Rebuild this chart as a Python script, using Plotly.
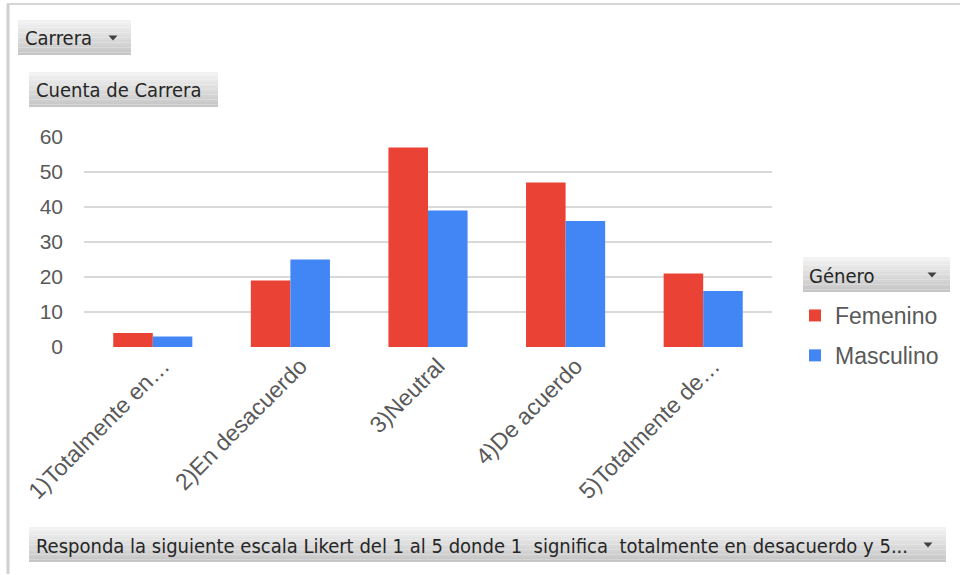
import plotly.graph_objects as go

categories = ["1)Totalmente en…", "2)En desacuerdo", "3)Neutral", "4)De acuerdo", "5)Totalmente de…"]
femenino = [4, 19, 57, 47, 21]
masculino = [3, 25, 39, 36, 16]
series_names = ["Femenino", "Masculino"]
y_ticks = [0, 10, 20, 30, 40, 50, 60]

W, H = 960, 575
L, R, T, B = 84, 188, 137, 228
PW, PH = W - L - R, H - T - B


def px2x(px):
    return (px - L) / PW


def py2y(py):
    return (H - B - py) / PH


RED = "#EA4335"
BLUE = "#4285F4"
TXT = "#595959"
BTN_FONT = dict(family="DejaVu Sans Condensed, DejaVu Sans, sans-serif", size=20, color="#262626")

fig = go.Figure()
fig.add_trace(go.Bar(x=categories, y=femenino, name=series_names[0], marker=dict(color=RED, line=dict(width=0)),
                     legendgroup="f"))
fig.add_trace(go.Bar(x=categories, y=masculino, name=series_names[1], marker=dict(color=BLUE, line=dict(width=0)),
                     legendgroup="m"))

shapes = []
annotations = []


def button(x0, y0, x1, y1, text, tx, arrow_x=None, n=14):
    top = (242, 242, 242)
    bot = (198, 198, 198)
    for i in range(n):
        f = i / (n - 1)
        c = tuple(int(round(top[k] + (bot[k] - top[k]) * f)) for k in range(3))
        ya = y0 + (y1 - y0) * i / n
        yb = y0 + (y1 - y0) * (i + 1) / n
        shapes.append(dict(type="rect", xref="paper", yref="paper",
                           x0=px2x(x0), x1=px2x(x1), y0=py2y(yb), y1=py2y(ya),
                           fillcolor="rgb(%d,%d,%d)" % c, line=dict(width=0), layer="below"))
    annotations.append(dict(xref="paper", yref="paper", x=px2x(tx), y=py2y((y0 + y1) / 2 + 1),
                            xanchor="left", yanchor="middle", text=text, showarrow=False, font=BTN_FONT))
    if arrow_x is not None:
        cy = (y0 + y1) / 2
        p = "M %f,%f L %f,%f L %f,%f Z" % (px2x(arrow_x - 4.5), py2y(cy - 2), px2x(arrow_x + 4.5), py2y(cy - 2),
                                             px2x(arrow_x), py2y(cy + 3))
        shapes.append(dict(type="path", xref="paper", yref="paper", path=p, fillcolor="#404040",
                           line=dict(width=0)))


button(18, 20, 131, 55, "Carrera", 23, 113)
button(29, 72, 218, 107, "Cuenta de Carrera", 34)
button(803, 257, 950, 292, "Género", 807, 932)
button(29, 527, 946, 562,
       "Responda la siguiente escala Likert del 1 al 5 donde 1 \u00a0significa \u00a0totalmente en desacuerdo y 5...",
       34, 928)

# outer frame
shapes.append(dict(type="rect", xref="paper", yref="paper", x0=px2x(7), x1=px2x(960), y0=py2y(5), y1=py2y(3),
                   fillcolor="#d6d6d6", line=dict(width=0)))
shapes.append(dict(type="line", xref="paper", yref="paper", x0=px2x(8), x1=px2x(8), y0=py2y(4), y1=py2y(574),
                   line=dict(color="#d0d0d0", width=3)))

fig.update_layout(
    template="none",
    width=W, height=H,
    margin=dict(l=L, r=R, t=T, b=B, pad=0),
    paper_bgcolor="white", plot_bgcolor="white",
    barmode="group", bargap=0.425, bargroupgap=0,
    font=dict(family="Liberation Sans, Arial, sans-serif", size=21, color=TXT),
    xaxis=dict(tickangle=-45, showgrid=False, showline=False, ticks="", zeroline=False,
               ticklabelshift=10,
               tickfont=dict(size=23, color=TXT), automargin=False),
    yaxis=dict(range=[0, 60], tickvals=y_ticks, showgrid=True, gridcolor="#d9d9d9", gridwidth=2,
               zeroline=False, showline=False, ticks="", ticklabelstandoff=20,
               tickfont=dict(size=21, color=TXT), automargin=False),
    legend=dict(x=px2x(795), y=py2y(294), xanchor="left", yanchor="top", tracegroupgap=7,
                font=dict(size=23, color=TXT), bgcolor="rgba(0,0,0,0)"),
    shapes=shapes,
    annotations=annotations,
)

fig.write_html("out.html", config={"displayModeBar": False},
               post_script="document.body.style.margin='0';")
